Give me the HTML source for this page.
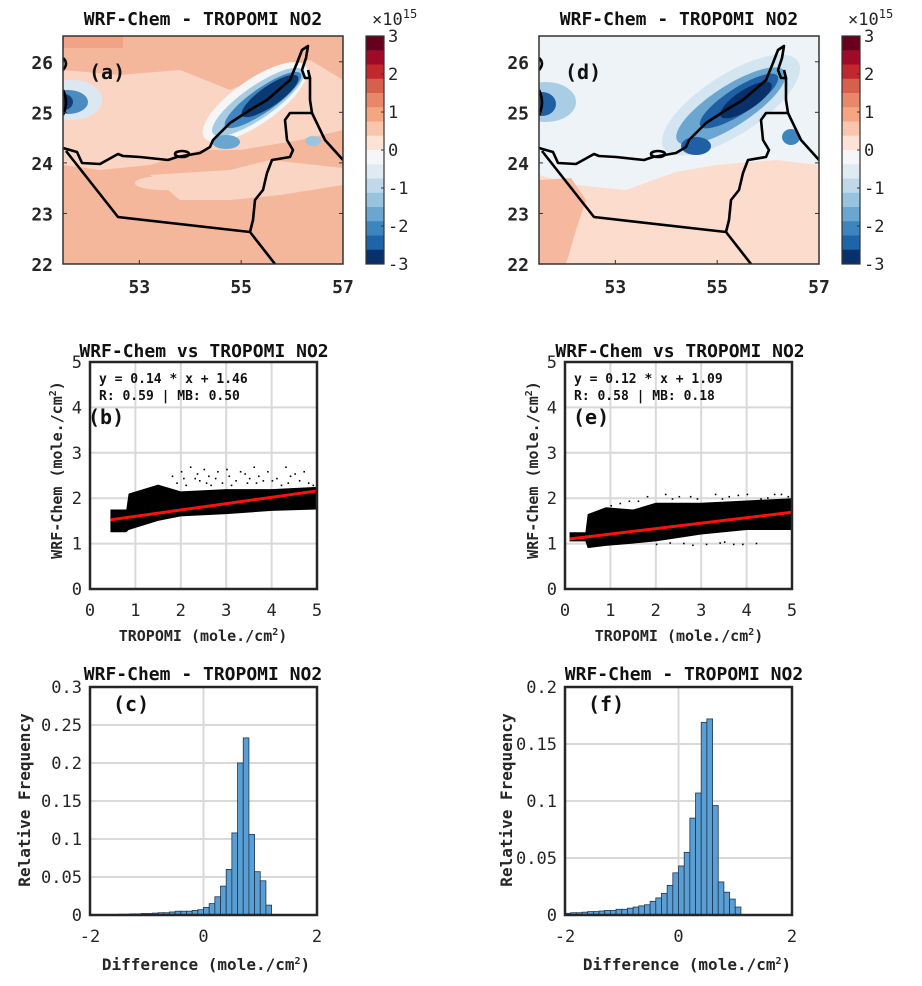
<!DOCTYPE html>
<html><head><meta charset="utf-8"><style>
html,body{margin:0;padding:0;background:#fff;}
svg{display:block;font-family:"DejaVu Sans Mono","Liberation Mono",monospace;}
.t{font-weight:bold;font-size:17px;fill:#111;}
.tk{font-size:17px;font-weight:bold;fill:#262626;}
.lb{font-size:15px;font-weight:bold;fill:#262626;}
</style></head><body>
<svg id="fig" width="922" height="986" viewBox="0 0 922 986" xmlns="http://www.w3.org/2000/svg"></svg>
<script>
// ---------- data ----------
const mapLatTicks=[22,23,24,25,26];
const mapLonTicks=[53,55,57];
const cbTicks=[3,2,1,0,-1,-2,-3];
const cbColors=['#67001f','#9e0a27','#c1272d','#d6604d','#e8876a','#f4a582','#f9c6ad','#fde3d5','#f5f6f7','#deebf2','#c0d9ea','#98c3de','#6aa6cf','#3d85bd','#1f63a8','#08306b'];
const scatterTicks=[0,1,2,3,4,5];
const fitB=[0.14,1.46], fitE=[0.12,1.09];
const bandXB=[0.45,0.8,0.85,1.5,2,3,4,5];
const bandUpB=[1.75,1.75,2.1,2.3,2.15,2.2,2.2,2.25];
const bandLoB=[1.25,1.25,1.3,1.5,1.6,1.65,1.72,1.75];
const bandXE=[0.1,0.45,0.5,0.9,1.5,2,3,4,5];
const bandUpE=[1.25,1.25,1.65,1.8,1.75,1.9,1.9,1.95,2.0];
const bandLoE=[1.05,1.05,0.9,0.95,1.0,1.05,1.2,1.3,1.3];
const outXB=[1.8,2.0,2.2,2.3,2.5,2.6,2.8,3.0,3.2,3.4,3.6,3.7,3.9,4.1,4.3,4.5,4.7,1.9,2.4,2.9,3.5,4.0,4.4,4.8,2.1,2.35,2.55,2.75,3.1,3.3,3.45,3.8,4.2,4.6,4.9,2.05,2.65,3.05,3.65,4.35];
const outYB=[2.5,2.6,2.7,2.45,2.65,2.5,2.6,2.65,2.4,2.55,2.7,2.5,2.6,2.45,2.7,2.55,2.6,2.35,2.4,2.35,2.45,2.4,2.5,2.35,2.3,2.55,2.35,2.45,2.3,2.6,2.35,2.4,2.3,2.4,2.3,2.45,2.3,2.5,2.35,2.35];
const outXE=[1.0,1.4,1.8,2.2,2.5,2.9,3.3,3.6,4.0,4.3,4.6,4.9,2.0,2.6,3.1,3.5,3.9,4.2,1.2,1.6,2.35,2.75,3.45,3.8,4.45,4.75,2.3,2.8,3.4,3.7];
const outYE=[1.85,1.95,2.05,2.1,2.05,2.0,2.1,2.05,2.1,2.0,2.1,2.05,1.0,1.02,1.0,1.05,1.0,1.02,1.9,1.95,2.0,2.05,2.0,2.08,2.02,2.1,1.03,0.98,1.03,1.0];
const histStart=-2, histW=0.1;
const histC=[0,0,0,0,0.0005,0.001,0.001,0.0015,0.0015,0.002,0.002,0.0025,0.003,0.003,0.004,0.005,0.005,0.005,0.006,0.007,0.01,0.015,0.024,0.038,0.06,0.108,0.2,0.233,0.106,0.057,0.045,0.013];
const histF=[0.0015,0.002,0.002,0.0025,0.003,0.003,0.0035,0.004,0.004,0.005,0.005,0.006,0.007,0.008,0.009,0.012,0.015,0.019,0.026,0.037,0.043,0.055,0.085,0.107,0.169,0.172,0.096,0.029,0.02,0.014,0.007];
const histCTicks=[0,0.05,0.1,0.15,0.2,0.25,0.3];
const histFTicks=[0,0.05,0.1,0.15,0.2];
const histXTicks=[-2,0,2];

// ---------- helpers ----------
const NS='http://www.w3.org/2000/svg';
const fig=document.getElementById('fig');
function E(tag,attrs,parent,txt){const e=document.createElementNS(NS,tag);for(const k in attrs)e.setAttribute(k,attrs[k]);if(txt!==undefined)e.textContent=txt;(parent||fig).appendChild(e);return e;}
function G(name){const g=E('g',{});return g;}
function T(parent,x,y,txt,cls,anchor,name,extra){const t=E('text',Object.assign({x:x,y:y,class:cls,'text-anchor':anchor||'middle'},extra||{}),parent,txt);return t;}
function ell(m,cx,cy,rx,ry,rot,fill){return E('ellipse',{cx:cx,cy:cy,rx:rx,ry:ry,transform:'rotate('+rot+' '+cx+' '+cy+')',fill:fill},m);}

// ---------- maps ----------
function drawMap(dx,label,variant){
  const g=G('map-panel-'+label);
  const X0=63+dx,X1=343+dx,Y0=36,Y1=264;
  const lon=v=>X0+(v-51.5)*(X1-X0)/5.5;
  const lat=v=>Y1-(v-22)*(Y1-Y0)/4.51;
  const clip='clip'+label;
  const cp=E('clipPath',{id:clip},g);E('rect',{x:X0,y:Y0,width:X1-X0,height:Y1-Y0},cp);
  const m=E('g',{'clip-path':'url(#'+clip+')'},g);
  
  const P=(pts)=>pts.map(p=>(p[0]+dx)+','+p[1]).join(' ');
  if(variant==='a'){
    E('rect',{x:X0,y:Y0,width:X1-X0,height:Y1-Y0,fill:'#f5b79c'},m);
    E('polygon',{points:P([[63,70],[120,75],[180,70],[230,90],[280,70],[310,60],[343,80],[343,130],[300,140],[240,150],[200,150],[150,165],[100,170],[63,165]]),fill:'#fad5c4'},m);
    E('polygon',{points:P([[150,175],[230,170],[270,160],[343,168],[343,185],[280,195],[230,200],[180,200]]),fill:'#fad5c4'},m);
    E('ellipse',{cx:lon(53.5),cy:lat(23.6),rx:30,ry:7,fill:'#fad5c4'},m);
    E('rect',{x:X0,y:Y0,width:60,height:12,fill:'#f0a386'},m);
    ell(m,255+dx,102,62,22,-35,'#f5f6f7');
    ell(m,258+dx,102,55,16,-35,'#a7cbe2');
    ell(m,263+dx,100,46,12,-35,'#3f85bf');
    ell(m,270+dx,96,34,10,-35,'#0b3a72');
    E('ellipse',{cx:226+dx,cy:142,rx:14,ry:7,fill:'#6aa6cf'},m);
    E('ellipse',{cx:72+dx,cy:100,rx:30,ry:20,fill:'#dbe8f1'},m);
    E('ellipse',{cx:68+dx,cy:102,rx:20,ry:12,fill:'#4a8cc2'},m);
    E('ellipse',{cx:64+dx,cy:102,rx:9,ry:8,fill:'#123f78'},m);
    E('ellipse',{cx:313+dx,cy:141,rx:8,ry:5,fill:'#9cc5df'},m);
  } else {
    E('rect',{x:X0,y:Y0,width:X1-X0,height:Y1-Y0,fill:'#fbdccd'},m);
    E('polygon',{points:P([[63,36],[343,36],[343,165],[300,160],[240,165],[200,172],[150,190],[100,185],[63,175]]),fill:'#eef3f7'},m);
    E('polygon',{points:P([[63,180],[95,178],[110,200],[100,230],[90,264],[63,264]]),fill:'#f6b9a0'},m);
    ell(m,255+dx,105,80,30,-33,'#d3e5f1');
    ell(m,255+dx,106,64,20,-33,'#6aa6cf');
    ell(m,263+dx,101,46,13,-33,'#1f5fa3');
    ell(m,270+dx,100,30,10,-33,'#08306b');
    E('ellipse',{cx:220+dx,cy:146,rx:15,ry:9,fill:'#1f5fa3'},m);
    E('ellipse',{cx:70+dx,cy:102,rx:30,ry:20,fill:'#a9cde4'},m);
    E('ellipse',{cx:66+dx,cy:104,rx:14,ry:12,fill:'#1f5fa3'},m);
    E('ellipse',{cx:315+dx,cy:137,rx:9,ry:8,fill:'#3d85bd'},m);
  }
  const L='stroke:#000;stroke-width:2.6;fill:none;stroke-linejoin:round';
  const coast=[[63,148],[77,152],[82,163],[100,164],[118,154],[123,156],[140,157],[168,160],[177,157],[200,153],[210,147],[213,140],[230,123],[250,110],[267,100],[290,80],[297,63],[302,50],[308,46],[306,58],[302,70],[305,78],[310,78],[308,70]];
  E('polyline',{points:P(coast),style:L},m);
  E('polyline',{points:P([[310,78],[310,100],[312,113],[325,140],[343,160]]),style:L},m);
  E('polyline',{points:P([[312,113],[290,113],[285,120],[287,140],[293,150],[290,157],[272,160],[267,173],[263,190],[255,200],[253,220],[250,232]]),style:L},m);
  E('polyline',{points:P([[66,151],[118,217],[250,232],[275,264]]),style:L},m);
  E('ellipse',{cx:182+dx,cy:154,rx:7,ry:3,style:L},m);
  E('path',{d:'M'+(63+dx)+',58 q6,5 0,12 M'+(63+dx)+',90 q6,12 0,25',style:L},m);
  E('rect',{x:X0,y:Y0,width:X1-X0,height:Y1-Y0,fill:'none',stroke:'#333',"stroke-width":1.5},g);
  mapLatTicks.forEach(v=>{T(g,X0-10,lat(v)+7,String(v),'tk','end','lat-tick-label',{style:'font-size:18px'});E('line',{x1:X0,x2:X0+4,y1:lat(v),y2:lat(v),stroke:'#333'},g);E('line',{x1:X1,x2:X1-4,y1:lat(v),y2:lat(v),stroke:'#333'},g);});
  mapLonTicks.forEach(v=>{T(g,lon(v),293,String(v),'tk','middle','lon-tick-label',{style:'font-size:18px'});E('line',{x1:lon(v),x2:lon(v),y1:Y1,y2:Y1-4,stroke:'#333'},g);});
  T(g,(X0+X1)/2,25,'WRF-Chem - TROPOMI NO2','t','middle','map-title',{style:'font-size:18px'});
  T(g,X0+26,79,'('+label+')','t','start','panel-label',{style:'font-size:20px'});
  const cx=366+dx,cw=18;
  const cb=G('colorbar-'+label);
  const n=cbColors.length,h=(Y1-Y0)/n;
  cbColors.forEach((c,i)=>{const r=E('rect',{x:cx,y:Y0+i*h,width:cw,height:h+0.5,fill:c},cb);});
  E('rect',{x:cx,y:Y0,width:cw,height:Y1-Y0,fill:'none',stroke:'#333','stroke-width':1.2},cb);
  cbTicks.forEach(v=>{const y=Y0+(3-v)*(Y1-Y0)/6;T(cb,cx+cw+4,y+6,String(v),'tk','start','colorbar-tick-label',{style:'font-weight:normal'});E('line',{x1:cx+cw,x2:cx+cw-3,y1:y,y2:y,stroke:'#333'},cb);});
  const ex=T(cb,cx+6,25,'×10','tk','start','colorbar-exponent',{style:'font-weight:normal'});
  E('tspan',{dy:-7,style:'font-size:12px'},ex,'15');
}
drawMap(0,'a','a');
drawMap(476,'d','d');

// ---------- scatter ----------
function drawScatter(dx,label,fit,bx,bu,bl,ox,oy,eqTxt,statTxt){
  const g=G('scatter-panel-'+label);
  const X0=90+dx-(label==='e'?1:0),X1=X0+227,Y0=362,Y1=589;
  const sx=v=>X0+v*(X1-X0)/5, sy=v=>Y1-v*(Y1-Y0)/5;
  scatterTicks.forEach(v=>{E('line',{x1:sx(v),x2:sx(v),y1:Y0,y2:Y1,stroke:'#d9d9d9','stroke-width':2},g);E('line',{x1:X0,x2:X1,y1:sy(v),y2:sy(v),stroke:'#d9d9d9','stroke-width':2},g);});
  const pts=bx.map((x,i)=>sx(x)+','+sy(bu[i])).concat(bx.map((x,i)=>sx(x)+','+sy(bl[i])).reverse());
  E('polygon',{points:pts.join(' '),fill:'#000'},g);
  ox.forEach((x,i)=>{const c=E('rect',{x:sx(x),y:sy(oy[i]),width:1.6,height:1.6,fill:'#000'},g);});
  const xs=bx[0];
  const ln=E('line',{x1:sx(xs),y1:sy(fit[0]*xs+fit[1]),x2:sx(5),y2:sy(fit[0]*5+fit[1]),stroke:'#ff1010','stroke-width':3},g);
  
  E('rect',{x:X0,y:Y0,width:X1-X0,height:Y1-Y0,fill:'none',stroke:'#262626','stroke-width':2.5},g);
  scatterTicks.forEach(v=>{T(g,X0-8,sy(v)+6,String(v),'tk','end','y-tick-label',{style:'font-weight:normal'});T(g,sx(v),616,String(v),'tk','middle','x-tick-label',{style:'font-weight:normal'});});
  T(g,204+dx,357,'WRF-Chem vs TROPOMI NO2','t','middle','scatter-title',{style:'font-size:18px'});
  T(g,X0+9,383,eqTxt,'lb','start','regression-equation',{style:'font-size:13px;fill:#111'});
  T(g,X0+9,400,statTxt,'lb','start','regression-stats',{style:'font-size:13px;fill:#111'});
  T(g,X0+(label==='e'?8:-2),424,'('+label+')','t','start','panel-label',{style:'font-size:20px'});
  const xl=T(g,203+dx,641,'TROPOMI (mole./cm','lb','middle','x-axis-title');
  E('tspan',{dy:-6,style:'font-size:10px'},xl,'2');E('tspan',{dy:6},xl,')');
  const yl=T(g,0,0,'WRF-Chem (mole./cm','lb','middle','y-axis-title',{transform:'translate('+(62+dx)+',470) rotate(-90)'});
  E('tspan',{dy:-6,style:'font-size:10px'},yl,'2');E('tspan',{dy:6},yl,')');
}
drawScatter(0,'b',fitB,bandXB,bandUpB,bandLoB,outXB,outYB,'y = 0.14 * x + 1.46','R: 0.59 | MB: 0.50');
drawScatter(476,'e',fitE,bandXE,bandUpE,bandLoE,outXE,outYE,'y = 0.12 * x + 1.09','R: 0.58 | MB: 0.18');

// ---------- histograms ----------
function drawHist(dx,label,vals,ymax,yticks){
  const g=G('histogram-panel-'+label);
  const X0=90+dx-(label==='f'?1:0),X1=X0+227,Y0=687,Y1=915;
  const sx=v=>X0+(v+2)*(X1-X0)/4, sy=v=>Y1-v*(Y1-Y0)/ymax;
  yticks.forEach(v=>E('line',{x1:X0,x2:X1,y1:sy(v),y2:sy(v),stroke:'#d9d9d9','stroke-width':2},g));
  histXTicks.forEach(v=>E('line',{x1:sx(v),x2:sx(v),y1:Y0,y2:Y1,stroke:'#d9d9d9','stroke-width':2},g));
  vals.forEach((v,i)=>{if(v<=0)return;const a=histStart+i*histW;const r=E('rect',{x:sx(a),y:sy(v),width:sx(a+histW)-sx(a),height:Y1-sy(v),fill:'#5a9fd4',stroke:'#1f3550','stroke-width':0.8},g);});
  E('rect',{x:X0,y:Y0,width:X1-X0,height:Y1-Y0,fill:'none',stroke:'#262626','stroke-width':2.5},g);
  yticks.forEach(v=>T(g,X0-8,sy(v)+6,String(v),'tk','end','y-tick-label',{style:'font-weight:normal'}));
  histXTicks.forEach(v=>T(g,sx(v),942,String(v),'tk','middle','x-tick-label',{style:'font-weight:normal'}));
  T(g,203+dx+(label==='f'?5:0),680,'WRF-Chem - TROPOMI NO2','t','middle','histogram-title',{style:'font-size:18px'});
  T(g,X0+23,711,'('+label+')','t','start','panel-label',{style:'font-size:20px'});
  const xl=T(g,206+dx+(label==='f'?5:0),970,'Difference (mole./cm','lb','middle','x-axis-title',{style:'font-size:16px'});
  E('tspan',{dy:-6,style:'font-size:10px'},xl,'2');E('tspan',{dy:6},xl,')');
  T(g,0,0,'Relative Frequency','lb','middle','y-axis-title',{transform:'translate('+(30+dx+(label==='f'?6:0))+',800) rotate(-90)',style:'font-size:16px'});
}
drawHist(0,'c',histC,0.3,histCTicks);
drawHist(476,'f',histF,0.2,histFTicks);
</script>
</body></html>
